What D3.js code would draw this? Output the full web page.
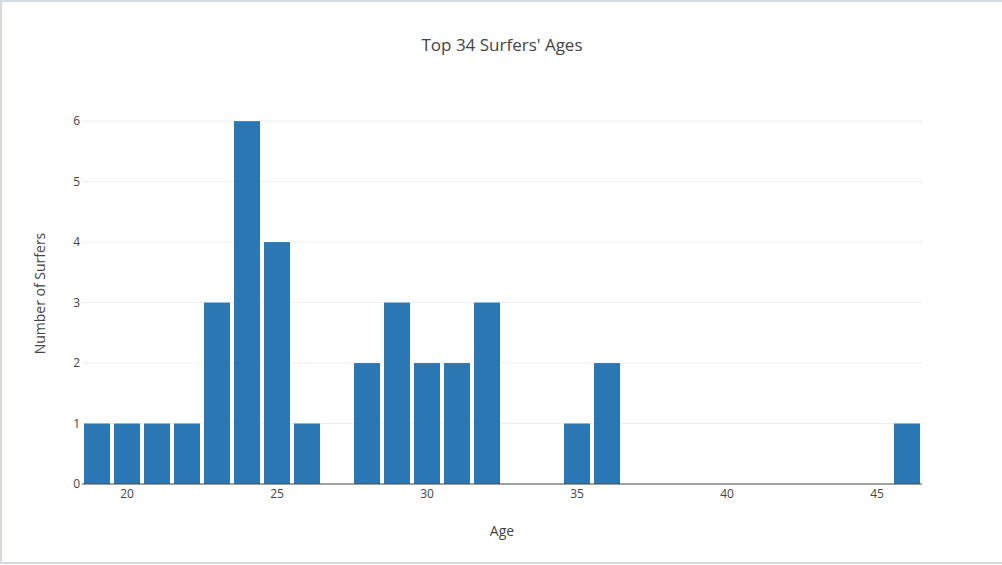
<!DOCTYPE html>
<html>
<head>
<meta charset="utf-8">
<script src="https://cdn.jsdelivr.net/npm/d3@7"></script>
<style>
  body { margin: 0; background: #fff; }
  svg { display: block; font-family: "Open Sans", sans-serif; }
</style>
</head>
<body>
<svg id="chart" width="1002" height="565"></svg>
<script>
// histogram bins: age -> number of surfers
const ages = [19, 20, 21, 22, 23, 24, 25, 26, 27, 28, 29, 30, 31, 32, 33, 34, 35, 36, 37, 38, 39, 40, 41, 42, 43, 44, 45, 46];
const counts = [1, 1, 1, 1, 3, 6, 4, 1, 0, 2, 3, 2, 2, 3, 0, 0, 1, 2, 0, 0, 0, 0, 0, 0, 0, 0, 0, 1];
const xTicks = [20, 25, 30, 35, 40, 45];
const yTicks = [0, 1, 2, 3, 4, 5, 6];

const width = 1002, height = 565;
const margin = {top: 103, right: 80, bottom: 81, left: 82};
const plotW = width - margin.left - margin.right;
const plotH = height - margin.top - margin.bottom;

const svg = d3.select('#chart');

// outer frame
svg.append('rect')
    .attr('x', 1).attr('y', 1)
    .attr('width', width + 10).attr('height', height - 3)
    .style('fill', 'none')
    .style('stroke', '#c8ced6')
    .style('stroke-width', 1.5);

const xScale = d3.scaleLinear().domain([18.5, 46.5]).range([0, plotW]);
const yScale = d3.scaleLinear().domain([0, 6.3]).range([plotH, 0]);

const g = svg.append('g').attr('transform', `translate(${margin.left},${margin.top})`);

// grid lines
g.selectAll('.grid')
    .data(yTicks.filter(d => d > 0))
    .enter()
    .append('line')
    .attr('class', 'grid')
    .attr('x1', 0).attr('x2', plotW)
    .attr('y1', d => yScale(d)).attr('y2', d => yScale(d))
    .style('stroke', '#eeeeee')
    .style('stroke-width', 1);

const data = ages.map((a, i) => ({age: a, count: counts[i]}));
const slot = xScale(1) - xScale(0);
const gap = 2;

g.selectAll('.bar')
    .data(data.filter(d => d.count > 0))
    .enter()
    .append('rect')
    .attr('class', 'bar')
    .attr('x', d => xScale(d.age - 0.5) + gap)
    .attr('y', d => yScale(d.count))
    .attr('width', slot - 2 * gap)
    .attr('height', d => plotH - yScale(d.count))
    .style('fill', '#2a77b4');

// zero line
g.append('line')
    .attr('x1', 0).attr('x2', plotW)
    .attr('y1', yScale(0)).attr('y2', yScale(0))
    .style('stroke', '#444')
    .style('stroke-width', 1.2);

// x tick labels
g.selectAll('.xtick')
    .data(xTicks)
    .enter()
    .append('text')
    .attr('class', 'xtick')
    .attr('x', d => xScale(d))
    .attr('y', plotH + 14)
    .attr('text-anchor', 'middle')
    .style('font-size', '12px')
    .style('fill', '#444')
    .text(d => d);

// y tick labels
g.selectAll('.ytick')
    .data(yTicks)
    .enter()
    .append('text')
    .attr('class', 'ytick')
    .attr('x', -2)
    .attr('y', d => yScale(d))
    .attr('dy', '0.35em')
    .attr('text-anchor', 'end')
    .style('font-size', '12px')
    .style('fill', '#444')
    .text(d => d);

// title
svg.append('text')
    .attr('x', margin.left + plotW / 2)
    .attr('y', 51)
    .attr('text-anchor', 'middle')
    .style('font-size', '17px')
    .style('fill', '#444')
    .text("Top 34 Surfers' Ages");

// axis titles
svg.append('text')
    .attr('x', margin.left + plotW / 2)
    .attr('y', 536)
    .attr('text-anchor', 'middle')
    .style('font-size', '14px')
    .style('fill', '#444')
    .text('Age');

svg.append('text')
    .attr('transform', `translate(45,${margin.top + plotH / 2}) rotate(-90)`)
    .attr('text-anchor', 'middle')
    .style('font-size', '14px')
    .style('fill', '#444')
    .text('Number of Surfers');
</script>
</body>
</html>
